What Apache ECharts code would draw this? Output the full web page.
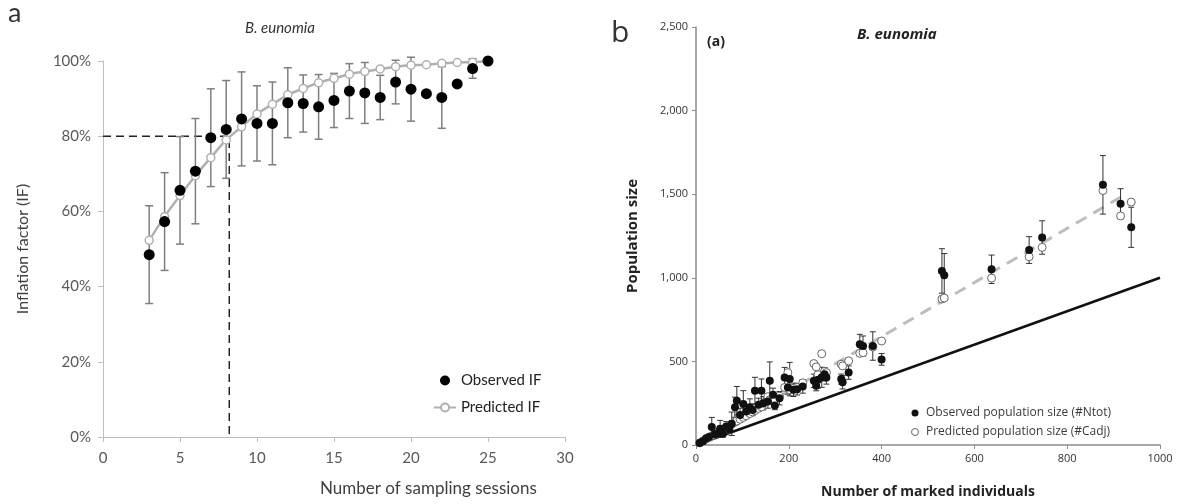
<!DOCTYPE html>
<html>
<head>
<meta charset="utf-8">
<script src="https://cdn.jsdelivr.net/npm/echarts@6/dist/echarts.min.js"></script>
<style>
  html, body { margin: 0; padding: 0; background: #fff; }
  #chart { width: 1183px; height: 504px; }
</style>
</head>
<body>
<div id="chart"></div>
<script>
// ---- Panel a: inflation factor vs sampling sessions ----
const sessions    = [3, 4, 5, 6, 7, 8, 9, 10, 11, 12, 13, 14, 15, 16, 17, 18, 19, 20, 21, 22, 23, 24, 25];
const observedIF  = [48.5, 57.3, 65.6, 70.7, 79.6, 81.8, 84.6, 83.4, 83.4, 88.9, 88.7, 87.8, 89.5, 92.0, 91.5, 90.3, 94.4, 92.5, 91.3, 90.3, 93.9, 98.0, 100];
const observedSD  = [13, 13, 14.3, 14, 13, 13, 12.5, 10, 11, 9.3, 7.6, 8.6, 7.2, 7.3, 8.1, 5.9, 5.8, 8.5, 0, 8.2, 0, 2.6, 0];
const predictedIF = [52.3, 58.6, 64.2, 69.5, 74.3, 79.0, 82.5, 85.9, 88.5, 91.0, 92.7, 94.2, 95.4, 96.5, 97.2, 97.9, 98.5, 98.9, 99.0, 99.4, 99.6, 99.7, 100];
const thresholdIF = 80;
const thresholdSessions = 8.2;

// ---- Panel b: population size vs marked individuals ----
const markedN   = [8, 15, 22, 28, 34, 40, 48, 52, 58, 65, 72, 77, 84, 88, 95, 102, 108, 116, 122, 127, 135, 141, 145, 155, 159, 166, 170, 180, 191, 198, 202, 210, 218, 230, 254, 259, 263, 271, 277, 281, 313, 316, 329, 353, 360, 381, 400, 530, 535, 637, 718, 746, 877, 915, 938];
const observedN = [12, 22, 40, 48, 107, 64, 70, 97, 67, 110, 95, 127, 226, 265, 180, 245, 200, 226, 210, 325, 240, 325, 250, 260, 384, 300, 236, 280, 404, 344, 394, 330, 334, 350, 384, 354, 390, 405, 423, 404, 394, 375, 433, 602, 592, 592, 512, 1041, 1015, 1051, 1166, 1241, 1556, 1443, 1302];
const observedErr = [5, 8, 12, 15, 58, 15, 20, 50, 20, 30, 25, 70, 60, 85, 40, 80, 35, 50, 35, 80, 40, 70, 40, 40, 113, 40, 25, 40, 60, 40, 100, 40, 35, 40, 40, 30, 50, 60, 40, 40, 30, 40, 40, 60, 60, 85, 35, 133, 130, 85, 80, 100, 175, 90, 120];
const predictedN = [13, 24, 36, 45, 55, 65, 78, 84, 94, 105, 117, 125, 136, 143, 154, 165, 175, 188, 198, 206, 219, 228, 250, 289, 270, 289, 270, 292, 344, 433, 330, 340, 344, 372, 487, 467, 420, 546, 440, 433, 483, 473, 503, 548, 552, 586, 622, 873, 879, 998, 1126, 1182, 1522, 1370, 1453];
const identityLine = [[0, 0], [1000, 1000]];
const fittedLine   = [[0, 0], [920, 1490]];

const FONT_A = 'Lato, "Open Sans", sans-serif';
const FONT_B = '"Open Sans", Lato, sans-serif';

function errorBars(capHalf, color, width) {
  return function (params, api) {
    const x = api.value(0);
    const lo = api.coord([x, api.value(1)]);
    const hi = api.coord([x, api.value(2)]);
    const style = { stroke: color, lineWidth: width };
    return {
      type: 'group',
      children: [
        { type: 'line', shape: { x1: lo[0], y1: lo[1], x2: hi[0], y2: hi[1] }, style },
        { type: 'line', shape: { x1: lo[0] - capHalf, y1: lo[1], x2: lo[0] + capHalf, y2: lo[1] }, style },
        { type: 'line', shape: { x1: hi[0] - capHalf, y1: hi[1], x2: hi[0] + capHalf, y2: hi[1] }, style }
      ]
    };
  };
}

const ifErrData = [];
sessions.forEach((s, i) => {
  if (observedSD[i] > 0) ifErrData.push([s, observedIF[i] - observedSD[i], observedIF[i] + observedSD[i]]);
});
const popErrData = markedN.map((m, i) => [m, observedN[i] - observedErr[i], observedN[i] + observedErr[i]]);

const chart = echarts.init(document.getElementById('chart'), null, { renderer: 'canvas' });

chart.setOption({
  animation: false,
  backgroundColor: '#fff',
  textStyle: { fontFamily: FONT_A },
  grid: [
    { left: 103, right: 618, top: 61, bottom: 67 },
    { left: 696, right: 23, top: 27, bottom: 56 }
  ],
  xAxis: [
    {
      gridIndex: 0, type: 'value', min: 0, max: 30, interval: 5,
      axisLine: { lineStyle: { color: '#bfbfbf', width: 1 } },
      axisTick: { show: true, length: 5, lineStyle: { color: '#bfbfbf' } },
      axisLabel: { fontSize: 15, color: '#595959', margin: 14, fontFamily: FONT_A },
      splitLine: { show: false }
    },
    {
      gridIndex: 1, type: 'value', min: 0, max: 1000, interval: 200,
      axisLine: { lineStyle: { color: '#8c8c8c', width: 1.5 } },
      axisTick: { show: true, length: 4, lineStyle: { color: '#8c8c8c' } },
      axisLabel: { fontSize: 11, color: '#333', margin: 8, fontFamily: FONT_B, formatter: v => String(v) },
      splitLine: { show: false },
      name: 'Number of marked individuals', nameLocation: 'middle', nameGap: 40,
      nameTextStyle: { fontSize: 14, fontWeight: 'bold', color: '#222', fontFamily: FONT_B }
    }
  ],
  yAxis: [
    {
      gridIndex: 0, type: 'value', min: 0, max: 100, interval: 20,
      axisLine: { show: true, lineStyle: { color: '#bfbfbf', width: 1 } },
      axisTick: { show: true, length: 5, lineStyle: { color: '#bfbfbf' } },
      axisLabel: { fontSize: 15, color: '#595959', margin: 12, formatter: '{value}%', fontFamily: FONT_A },
      splitLine: { show: false },
      name: 'Inflation factor (IF)', nameLocation: 'middle', nameGap: 72,
      nameTextStyle: { fontSize: 16, color: '#404040', fontFamily: FONT_A }
    },
    {
      gridIndex: 1, type: 'value', min: 0, max: 2500, interval: 500,
      axisLine: { show: true, lineStyle: { color: '#8c8c8c', width: 1.5 } },
      axisTick: { show: true, length: 4, lineStyle: { color: '#8c8c8c' } },
      axisLabel: { fontSize: 11, color: '#333', margin: 8, fontFamily: FONT_B,
        formatter: v => v.toLocaleString('en-US') },
      splitLine: { show: false },
      name: 'Population size', nameLocation: 'middle', nameGap: 56,
      nameTextStyle: { fontSize: 15, fontWeight: 'bold', color: '#222', fontFamily: FONT_B }
    }
  ],
  legend: [
    {
      left: 428, top: 368, orient: 'vertical', itemGap: 12,
      itemWidth: 22, itemHeight: 10,
      textStyle: { fontSize: 15, color: '#222', fontFamily: FONT_A },
      data: [
        { name: 'Observed IF', icon: 'circle', itemStyle: { color: '#000', opacity: 1 } },
        { name: 'Predicted IF' }
      ]
    },
    {
      left: 906, top: 402, orient: 'vertical', itemGap: 7,
      itemWidth: 12, itemHeight: 7,
      textStyle: { fontSize: 12, color: '#3a3a3a', fontFamily: FONT_B },
      data: [
        { name: 'Observed population size (#Ntot)', icon: 'circle', itemStyle: { color: '#111', opacity: 1 } },
        { name: 'Predicted population size (#Cadj)', icon: 'circle',
          itemStyle: { color: '#fff', borderColor: '#666', borderWidth: 1, opacity: 1 } }
      ]
    }
  ],
  graphic: [
    { type: 'text', left: 8, top: 0, style: { text: 'a', fontSize: 27, fill: '#333', fontFamily: FONT_A } },
    { type: 'text', left: 611, top: 18, style: { text: 'b', fontSize: 30, fill: '#333', fontFamily: FONT_B } },
    { type: 'text', left: 245, top: 21, style: { text: 'B. eunomia', fontSize: 15, fontStyle: 'italic', fill: '#333', fontFamily: FONT_A } },
    { type: 'text', left: 857, top: 27, style: { text: 'B. eunomia', fontSize: 15, fontStyle: 'italic', fontWeight: 'bold', fill: '#222', fontFamily: FONT_B } },
    { type: 'text', left: 707, top: 35, style: { text: '(a)', fontSize: 14, fontWeight: 'bold', fill: '#222', fontFamily: FONT_B } },
    { type: 'text', left: 320, top: 480, style: { text: 'Number of sampling sessions', fontSize: 17, fill: '#404040', fontFamily: FONT_A } }
  ],
  series: [
    // threshold guide
    {
      type: 'line', xAxisIndex: 0, yAxisIndex: 0, silent: true, symbol: 'none',
      data: [[0, thresholdIF], [thresholdSessions, thresholdIF], [thresholdSessions, 0]],
      lineStyle: { color: '#222', width: 1.5, type: [8, 5] }, z: 1
    },
    {
      type: 'custom', xAxisIndex: 0, yAxisIndex: 0, silent: true,
      renderItem: errorBars(4, '#7f7f7f', 1.5),
      encode: { x: 0, y: [1, 2] }, data: ifErrData, z: 2
    },
    {
      name: 'Predicted IF', type: 'line', xAxisIndex: 0, yAxisIndex: 0,
      data: sessions.map((s, i) => [s, predictedIF[i]]),
      smooth: 0.3, symbol: 'circle', symbolSize: 8,
      lineStyle: { color: '#b0b0b0', width: 2.5 },
      itemStyle: { color: '#fff', borderColor: '#b0b0b0', borderWidth: 1.5 },
      z: 3
    },
    {
      name: 'Observed IF', type: 'scatter', xAxisIndex: 0, yAxisIndex: 0,
      data: sessions.map((s, i) => [s, observedIF[i]]),
      symbol: 'circle', symbolSize: 11, itemStyle: { color: '#000', opacity: 1 }, z: 4
    },
    // panel b
    {
      type: 'line', xAxisIndex: 1, yAxisIndex: 1, silent: true, symbol: 'none',
      data: identityLine, lineStyle: { color: '#111', width: 2.5 }, z: 1
    },
    {
      type: 'line', xAxisIndex: 1, yAxisIndex: 1, silent: true, symbol: 'none',
      data: fittedLine, lineStyle: { color: '#bdbdbd', width: 3, type: [12, 8] }, z: 2
    },
    {
      type: 'custom', xAxisIndex: 1, yAxisIndex: 1, silent: true,
      renderItem: errorBars(3, '#333', 1),
      encode: { x: 0, y: [1, 2] }, data: popErrData, z: 3
    },
    {
      name: 'Predicted population size (#Cadj)', type: 'scatter', xAxisIndex: 1, yAxisIndex: 1,
      data: markedN.map((m, i) => [m, predictedN[i]]),
      symbol: 'circle', symbolSize: 8,
      itemStyle: { color: '#fff', borderColor: '#666', borderWidth: 1, opacity: 1 }, z: 4
    },
    {
      name: 'Observed population size (#Ntot)', type: 'scatter', xAxisIndex: 1, yAxisIndex: 1,
      data: markedN.map((m, i) => [m, observedN[i]]),
      symbol: 'circle', symbolSize: 8, itemStyle: { color: '#111', opacity: 1 }, z: 5
    }
  ]
});
</script>
</body>
</html>
